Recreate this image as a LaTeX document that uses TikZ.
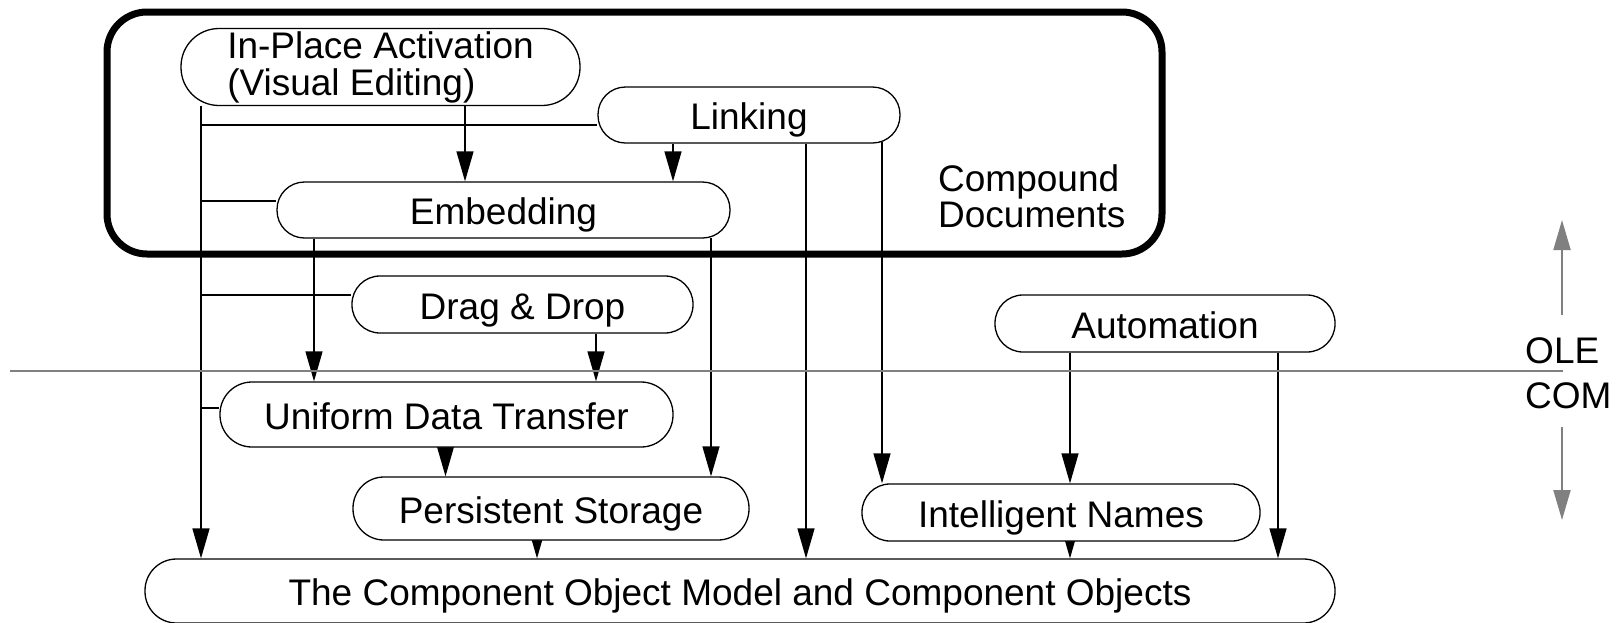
\documentclass[tikz,border=0pt]{standalone}
\usepackage{fontspec}
\setmainfont{Liberation Sans}
\usetikzlibrary{arrows.meta,backgrounds}
\definecolor{divgray}{RGB}{128,128,128}
\tikzset{
  box/.style={draw, line width=1.3pt, fill=white, inner sep=0pt,
    font=\fontsize{37}{37}\selectfont},
  one/.style={text height=29pt, text depth=0pt},
  lbl/.style={inner sep=0pt, font=\fontsize{37}{36}\selectfont},
  arr/.style={line width=1.3pt, -{Triangle[width=17pt,length=30pt]}},
  tick/.style={line width=2.4pt},
  trunk/.style={line width=1.5pt, -{Triangle[width=17pt,length=30pt]}},
  divider/.style={draw=divgray, line width=2.6pt},
  garr/.style={draw=divgray, line width=2pt, -{Triangle[width=17pt,length=30pt]}, divgray},
}
\begin{document}
\begin{tikzpicture}[x=1pt,y=-1pt]
\useasboundingbox (0,0) rectangle (1617,622);

% compound documents frame
\node[draw, line width=7pt, rounded corners=40pt, minimum width=1055pt,
      minimum height=242pt, inner sep=0pt] (cd) at (634.5,133) {};
\node[lbl, anchor=west, align=left] (cdl) at (938,196) {Compound\\Documents};

% nodes
\node[box, align=left, rounded corners=38pt, minimum width=399pt, minimum height=77pt]
  (inplace) at (380.5,67) {In-Place Activation\\(Visual Editing)};
\node[box, one, rounded corners=27.5pt, minimum width=302pt, minimum height=56pt]
  (linking) at (749,115) {Linking};
\node[box, one, rounded corners=27.5pt, minimum width=453pt, minimum height=56pt]
  (embed) at (503.5,210) {Embedding};
\node[box, one, rounded corners=28pt, minimum width=341pt, minimum height=57pt]
  (drag) at (522.5,304.5) {Drag \& Drop};
\node[box, one, rounded corners=32pt, minimum width=453pt, minimum height=65pt]
  (udt) at (446.5,414.5) {Uniform Data Transfer};
\node[box, one, rounded corners=31pt, minimum width=396pt, minimum height=63pt]
  (pers) at (551,508.5) {Persistent Storage};
\node[box, one, rounded corners=28pt, minimum width=340pt, minimum height=57pt]
  (auto) at (1165,323.5) {Automation};
\node[box, one, rounded corners=28pt, minimum width=398pt, minimum height=57pt]
  (names) at (1061,512.5) {Intelligent Names};
\node[box, one, rounded corners=31.5pt, minimum width=1190pt, minimum height=64pt]
  (com) at (740,591) {The Component Object Model and Component Objects};

\begin{pgfonlayer}{background}
% trunk and its joins
\draw[trunk] (inplace.south -| 201,0) -- (com.north -| 201,0);
\coordinate (t1) at (201,125);
\coordinate (t2) at (201,201);
\coordinate (t3) at (201,295);
\coordinate (t4) at (201,408);
\draw[tick] (t1) -- (t1 -| linking.west);
\draw[tick] (t2) -- (t2 -| embed.west);
\draw[tick] (t3) -- (t3 -| drag.west);
\draw[tick] (t4) -- (t4 -| udt.west);

% arrows
\draw[arr] (inplace.south -| 465,0) -- (embed.north -| 465,0);
\draw[arr] (linking.south -| 673,0) -- (embed.north -| 673,0);
\draw[arr] (linking.south -| 806,0) -- (com.north -| 806,0);
\draw[arr] ([yshift=2pt]linking.south -| 882,0) -- (names.north -| 882,0);
\draw[arr] (embed.south -| 314,0) -- (udt.north -| 314,0);
\draw[arr] ([yshift=1pt]embed.south -| 711,0) -- (pers.north -| 711,0);
\draw[arr] (drag.south -| 596,0) -- (udt.north -| 596,0);
\draw[arr] (udt.south -| 445.5,0) -- (pers.north -| 445.5,0);
\draw[arr] (pers.south -| 537,0) -- (com.north -| 537,0);
\draw[arr] (auto.south -| 1070,0) -- (names.north -| 1070,0);
\draw[arr] (auto.south -| 1278,0) -- (com.north -| 1278,0);
\draw[arr] (names.south -| 1070,0) -- (com.north -| 1070,0);
\end{pgfonlayer}

% OLE / COM divider
\coordinate (divL) at (10,371);
\coordinate (divR) at (1563,371);
\draw[divider] (divL) -- (divR);
\node[lbl, anchor=base west] (ole) at (1525,363) {OLE};
\node[lbl, anchor=base west] (comlbl) at (1525,408) {COM};
\coordinate (upS) at (1562,315);
\coordinate (upE) at (1562,220);
\coordinate (dnS) at (1562,427);
\coordinate (dnE) at (1562,520);
\draw[garr] (upS) -- (upE);
\draw[garr] (dnS) -- (dnE);
\end{tikzpicture}
\end{document}
